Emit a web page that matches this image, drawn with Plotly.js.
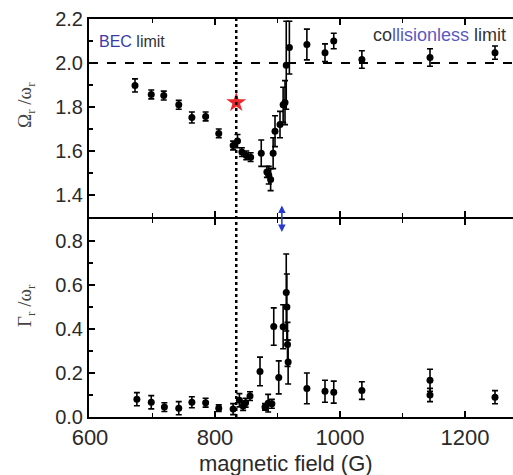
<!DOCTYPE html>
<html>
<head>
<meta charset="utf-8">
<script src="https://cdn.plot.ly/plotly-3.0.1.min.js"></script>
<style>html,body{margin:0;padding:0;background:#fff;}#chart{width:513px;height:475px;}</style>
</head>
<body>
<div id="chart"></div>
<script>
// Top panel: Omega_r / omega_r vs magnetic field (G)
const omegaField = [672, 698, 718, 742, 763, 785, 806, 829, 836, 843, 850, 857, 874, 883, 886, 889, 893, 896, 904, 909, 912, 914, 919, 947, 976, 990, 1035, 1144, 1248];
const omegaRatio = [1.898, 1.857, 1.852, 1.81, 1.752, 1.757, 1.68, 1.625, 1.645, 1.595, 1.58, 1.572, 1.59, 1.505, 1.49, 1.47, 1.59, 1.69, 1.72, 1.81, 1.82, 1.99, 2.07, 2.084, 2.047, 2.10, 2.016, 2.025, 2.047];
const omegaErr   = [0.03, 0.02, 0.02, 0.02, 0.025, 0.02, 0.02, 0.02, 0.03, 0.02, 0.02, 0.02, 0.06, 0.025, 0.04, 0.05, 0.07, 0.07, 0.06, 0.08, 0.1, 0.2, 0.12, 0.07, 0.04, 0.035, 0.04, 0.04, 0.03];

// Bottom panel: Gamma_r / omega_r vs magnetic field (G)
const gammaField = [675, 698, 719, 742, 763, 785, 806, 829, 839, 845, 849, 856, 872, 880, 885, 891, 894, 902, 909, 914, 915, 916, 917, 947, 976, 990, 1035, 1144, 1144, 1248];
const gammaRatio = [0.081, 0.067, 0.045, 0.04, 0.067, 0.065, 0.04, 0.036, 0.076, 0.05, 0.065, 0.095, 0.207, 0.046, 0.063, 0.06, 0.411, 0.18, 0.41, 0.566, 0.5, 0.33, 0.25, 0.13, 0.117, 0.113, 0.12, 0.167, 0.1, 0.09];
const gammaErr   = [0.03, 0.03, 0.02, 0.03, 0.025, 0.02, 0.015, 0.025, 0.03, 0.02, 0.02, 0.02, 0.065, 0.015, 0.04, 0.02, 0.085, 0.075, 0.1, 0.175, 0.15, 0.1, 0.1, 0.07, 0.05, 0.05, 0.04, 0.05, 0.03, 0.03];

// Reference markers
const becField = [834];           // dotted vertical line
const collisionlessLevel = [2.0]; // dashed horizontal line
const starField = [834];
const starRatio = [1.82];
const arrowField = [907];

const xTicks = [600, 800, 1000, 1200];
const omegaTicks = [1.4, 1.6, 1.8, 2.0, 2.2];
const gammaTicks = [0.0, 0.2, 0.4, 0.6, 0.8];

const fontFam = '"Liberation Sans", Arial, sans-serif';
const serif = '"Liberation Serif", "DejaVu Serif", serif';
const txt = '#2a2a2a';

const traces = [
  {
    x: omegaField, y: omegaRatio, xaxis: 'x2', yaxis: 'y2', type: 'scatter', mode: 'markers',
    marker: {color: '#000', size: 7},
    error_y: {type: 'data', array: omegaErr, visible: true, color: '#000', thickness: 1.6, width: 3},
    name: 'Omega', showlegend: false
  },
  {
    x: starField, y: starRatio, xaxis: 'x2', yaxis: 'y2', type: 'scatter', mode: 'markers',
    marker: {color: '#e8282a', size: 15, symbol: 'star', line: {width: 0}},
    showlegend: false
  },
  {
    x: gammaField, y: gammaRatio, xaxis: 'x', yaxis: 'y', type: 'scatter', mode: 'markers',
    marker: {color: '#000', size: 7},
    error_y: {type: 'data', array: gammaErr, visible: true, color: '#000', thickness: 1.6, width: 3},
    name: 'Gamma', showlegend: false
  }
];

const axisCommon = {
  showline: true, linecolor: '#000', linewidth: 2,
  ticks: 'inside', ticklen: 6, tickwidth: 1.5, tickcolor: '#000',
  showgrid: false, zeroline: false,
  tickfont: {family: fontFam, size: 20, color: txt}
};

const layout = {
  width: 513, height: 475,
  margin: {l: 89, r: 0, t: 19, b: 58},
  paper_bgcolor: '#fff', plot_bgcolor: '#fff',
  showlegend: false,
  xaxis: Object.assign({}, axisCommon, {
    anchor: 'y', range: [598.4, 1276.8], tickvals: xTicks, mirror: 'ticks',
    tickfont: {family: fontFam, size: 22, color: txt},
    minor: {tickvals: [700, 900, 1100], ticks: 'inside', ticklen: 4, tickcolor: '#000', tickwidth: 1.5}
  }),
  xaxis2: Object.assign({}, axisCommon, {
    anchor: 'y2', matches: 'x', range: [598.4, 1276.8], tickvals: xTicks, mirror: 'ticks', showticklabels: false,
    minor: {tickvals: [700, 900, 1100], ticks: 'inside', ticklen: 4, tickcolor: '#000', tickwidth: 1.5}
  }),
  yaxis: Object.assign({}, axisCommon, {
    anchor: 'x', domain: [0, 0.4975], range: [0, 0.9], tickvals: gammaTicks, tickformat: '.1f',
    minor: {dtick: 0.1, tick0: 0, ticks: 'inside', ticklen: 4, tickcolor: '#000', tickwidth: 1.5}
  }),
  yaxis2: Object.assign({}, axisCommon, {
    anchor: 'x2', domain: [0.5025, 1], range: [1.3, 2.2], tickvals: omegaTicks, tickformat: '.1f',
    minor: {dtick: 0.1, tick0: 0, ticks: 'inside', ticklen: 4, tickcolor: '#000', tickwidth: 1.5}
  }),
  shapes: [
    {type: 'line', xref: 'x', yref: 'paper', x0: becField[0], x1: becField[0], y0: 0, y1: 1,
     line: {color: '#000', width: 2.5, dash: 'dot'}},
    {type: 'line', xref: 'paper', yref: 'y2', x0: 0, x1: 1, y0: collisionlessLevel[0], y1: collisionlessLevel[0],
     line: {color: '#000', width: 2, dash: 'dash'}}
  ],
  annotations: [
    {xref: 'paper', yref: 'paper', x: 0.4646, y: -0.116, xanchor: 'center', yanchor: 'middle', showarrow: false,
     text: 'magnetic field (G)', font: {family: fontFam, size: 22, color: txt}},
    {xref: 'x2', yref: 'y2', x: 611, y: 2.096, xanchor: 'left', yanchor: 'middle', showarrow: false,
     text: '<span style="color:#3a3aa8">BEC</span> limit', font: {family: fontFam, size: 16, color: '#333'}},
    {xref: 'x2', yref: 'y2', x: 1268, y: 2.128, xanchor: 'right', yanchor: 'middle', showarrow: false,
     text: 'co<span style="color:#5a5ac0">llisionless</span> limit', font: {family: fontFam, size: 18, color: '#333'}},
    {xref: 'paper', yref: 'paper', x: -0.15, y: 0.785, textangle: -90, showarrow: false, xanchor: 'center', yanchor: 'middle',
     text: 'Ω<sub>r</sub> /ω<sub>r</sub>', font: {family: serif, size: 19, color: '#444'}},
    {xref: 'paper', yref: 'paper', x: -0.15, y: 0.28, textangle: -90, showarrow: false, xanchor: 'center', yanchor: 'middle',
     text: 'Γ<sub>r</sub> /ω<sub>r</sub>', font: {family: serif, size: 19, color: '#444'}},
    {xref: 'x', yref: 'paper', x: arrowField[0], y: 0.465, ax: 0, ay: -28, showarrow: true,
     arrowhead: 2, startarrowhead: 2, arrowside: 'end+start', arrowsize: 1, arrowwidth: 1.5, arrowcolor: '#2a3acc', text: ''}
  ]
};

Plotly.newPlot('chart', traces, layout, {displayModeBar: false, staticPlot: true});
</script>
</body>
</html>
